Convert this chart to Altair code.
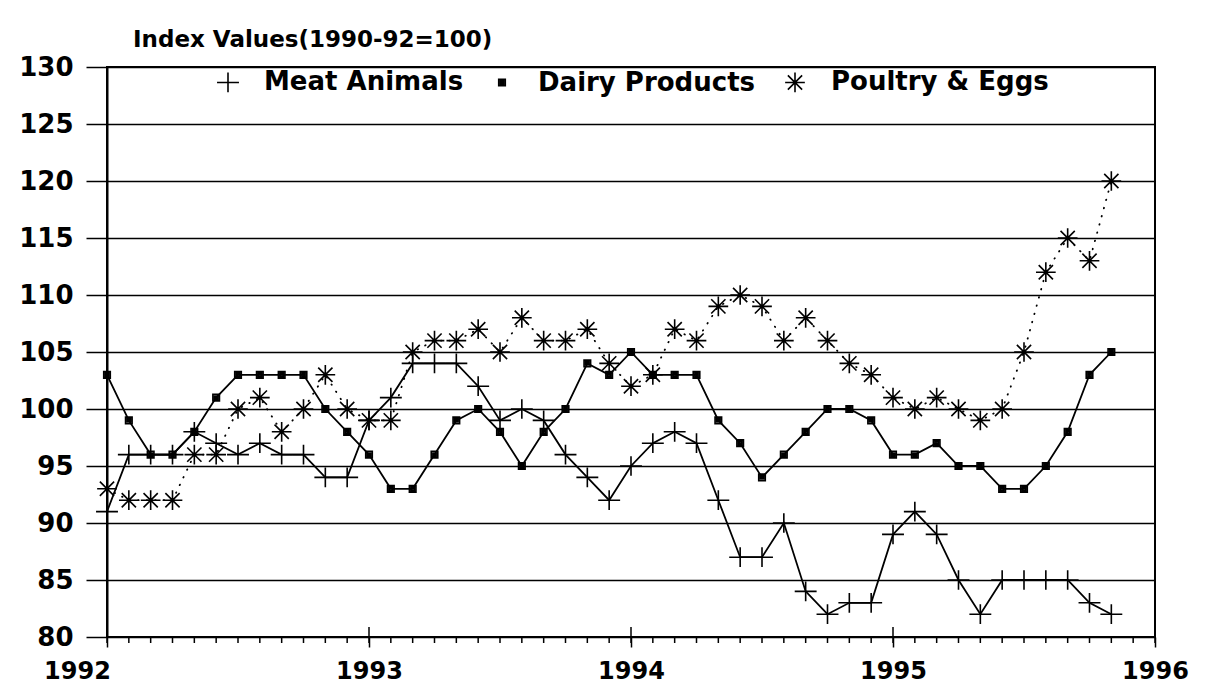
import altair as alt
import pandas as pd

series_names = ["Meat Animals", "Dairy Products", "Poultry & Eggs"]
start_year = 1992

meat = [91, 96, 96, 96, 98, 97, 96, 97, 96, 96, 94, 94,
        99, 101, 104, 104, 104, 102, 99, 100, 99, 96, 94, 92,
        95, 97, 98, 97, 92, 87, 87, 90, 84, 82, 83, 83,
        89, 91, 89, 85, 82, 85, 85, 85, 85, 83, 82]
dairy = [103, 99, 96, 96, 98, 101, 103, 103, 103, 103, 100, 98,
         96, 93, 93, 96, 99, 100, 98, 95, 98, 100, 104, 103,
         105, 103, 103, 103, 99, 97, 94, 96, 98, 100, 100, 99,
         96, 96, 97, 95, 95, 93, 93, 95, 98, 103, 105]
poultry = [93, 92, 92, 92, 96, 96, 100, 101, 98, 100, 103, 100,
           99, 99, 105, 106, 106, 107, 105, 108, 106, 106, 107, 104,
           102, 103, 107, 106, 109, 110, 109, 106, 108, 106, 104, 103,
           101, 100, 101, 100, 99, 100, 105, 112, 115, 113, 120]

year_ticks = [1992, 1993, 1994, 1995, 1996]
y_ticks = [80, 85, 90, 95, 100, 105, 110, 115, 120, 125, 130]

rows = []
for name, vals in zip(series_names, [meat, dairy, poultry]):
    for i, v in enumerate(vals):
        rows.append({"series": name, "t": start_year + i / 12.0, "value": v})
df = pd.DataFrame(rows)

month_df = pd.DataFrame({"t": [start_year + m / 12.0 for m in range(0, 49)]})
year_df = pd.DataFrame({"t": year_ticks})

x_scale = alt.Scale(domain=[1992, 1996], nice=False, zero=False)
y_scale = alt.Scale(domain=[80, 130], nice=False, zero=False)

# symbol paths (unit coords, scaled by sqrt(size)/2)
PLUS = "M-1,0H1M0,-0.9V0.9"
SQUARE = "M-0.3,-0.3H0.3V0.3H-0.3ZM-0.15,-0.15H0.15V0.15H-0.15ZM-0.15,0H0.15"
STAR = "M-0.9,0H0.9M0,-0.9V0.9M-0.65,-0.65L0.65,0.65M-0.65,0.65L0.65,-0.65"

FONT = "DejaVu Sans"

x_axis = alt.Axis(
    values=year_ticks, format="d", grid=False, domain=False,
    ticks=True, tickSize=10, tickColor="black", tickWidth=1.5,
    labelFont=FONT, labelFontSize=24, labelFontWeight="bold", labelColor="black",
    labelPadding=12, labelFlush=False, labelOverlap=False,
    labelOffset={"condition": {"test": "datum.value == 1992", "value": -30}, "value": 0},
    title=None,
)
y_axis = alt.Axis(
    values=y_ticks, grid=True, gridColor="black", gridWidth=1.6, gridOpacity=1,
    domain=True, domainColor="black", domainWidth=2,
    ticks=True, tickSize=21, tickColor="black", tickWidth=1.5,
    labelFont=FONT, labelFontSize=26, labelFontWeight="bold", labelColor="black",
    labelPadding=13, labelFlush=False, labelOverlap=False,
    title=None,
)

legend = alt.Legend(title=None, orient="none", legendX=108, legendY=2,
                    direction="horizontal", symbolSize=480,
                    symbolStrokeColor="black", symbolStrokeWidth=1.6)

base = alt.Chart(df).encode(
    x=alt.X("t:Q", scale=x_scale, axis=x_axis),
    y=alt.Y("value:Q", scale=y_scale, axis=y_axis),
    detail="series:N",
)

solid_lines = base.transform_filter(
    alt.FieldOneOfPredicate(field="series", oneOf=series_names[:2])
).mark_line(color="black", strokeWidth=1.8)

dotted_line = base.transform_filter(
    alt.FieldEqualPredicate(field="series", equal=series_names[2])
).mark_line(color="black", strokeWidth=1.8, strokeCap="round", strokeDash=[0.5, 8])

points = alt.Chart(df).mark_point(color="black", filled=False, strokeWidth=1.6,
                                  opacity=1, size=480).encode(
    x=alt.X("t:Q", scale=x_scale),
    y=alt.Y("value:Q", scale=y_scale),
    shape=alt.Shape("series:N", scale=alt.Scale(domain=series_names, range=[PLUS, SQUARE, STAR]),
                    legend=legend),
)

month_ticks = alt.Chart(month_df).mark_rule(color="black", strokeWidth=1.5).encode(
    x=alt.X("t:Q", scale=x_scale),
    y=alt.value(570), y2=alt.value(576),
)
year_inner = alt.Chart(year_df).mark_rule(color="black", strokeWidth=1.5).encode(
    x=alt.X("t:Q", scale=x_scale),
    y=alt.value(560), y2=alt.value(570),
)

chart = alt.layer(solid_lines, dotted_line, month_ticks, year_inner, points).properties(
    width=1048, height=570,
    autosize=alt.AutoSizeParams(type="none"),
    padding={"left": 99, "top": 59, "right": 40, "bottom": 46},
    title=alt.TitleParams("Index Values(1990-92=100)", anchor="start", frame="group",
                          dx=26, offset=2, font=FONT, fontSize=23, fontWeight="bold",
                          color="black"),
).configure_view(
    stroke="black", strokeWidth=2
).configure_legend(
    labelFont=FONT, labelFontSize=26, labelFontWeight="bold", labelColor="black",
    labelLimit=600, symbolStrokeColor="black", symbolStrokeWidth=1.6,
    labelOffset=23, columnPadding=25, padding=0,
)

chart.save("out.html", embed_options={"renderer": "svg", "actions": False})
